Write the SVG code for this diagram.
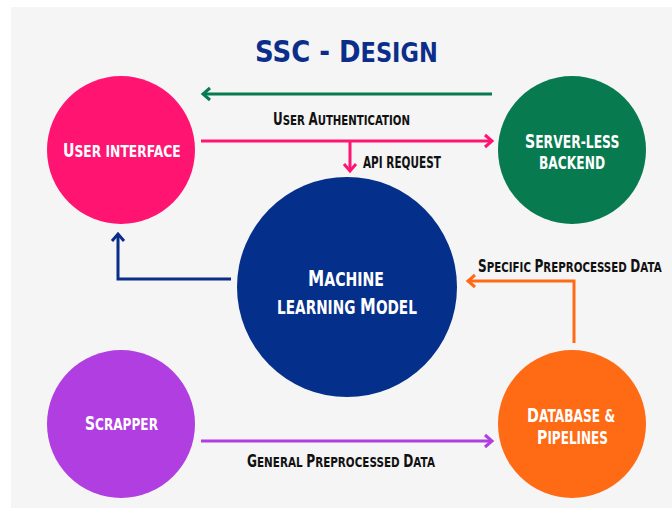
<svg xmlns="http://www.w3.org/2000/svg" width="672" height="508" viewBox="0 0 672 508">
<style>
text{font-family:"DejaVu Sans","Liberation Sans",sans-serif;font-weight:bold;}
.w{fill:#ffffff;}
.k{fill:#111111;}
.t{fill:#0b2e8a;}
.ln{fill:none;stroke-width:3;stroke-linejoin:miter;}
</style>
<defs>
<marker id="mg" markerUnits="userSpaceOnUse" markerWidth="20" markerHeight="20" refX="0" refY="0" viewBox="-10 -10 20 20" orient="auto"><path d="M-7,-6 L0,0 L-7,6" fill="none" stroke="#077a4f" stroke-width="3"/></marker>
<marker id="mp" markerUnits="userSpaceOnUse" markerWidth="20" markerHeight="20" refX="0" refY="0" viewBox="-10 -10 20 20" orient="auto"><path d="M-7,-6 L0,0 L-7,6" fill="none" stroke="#ff1472" stroke-width="3"/></marker>
<marker id="mb" markerUnits="userSpaceOnUse" markerWidth="20" markerHeight="20" refX="0" refY="0" viewBox="-10 -10 20 20" orient="auto"><path d="M-7,-6 L0,0 L-7,6" fill="none" stroke="#0a2d8a" stroke-width="3"/></marker>
<marker id="mo" markerUnits="userSpaceOnUse" markerWidth="20" markerHeight="20" refX="0" refY="0" viewBox="-10 -10 20 20" orient="auto"><path d="M-7,-6 L0,0 L-7,6" fill="none" stroke="#ff6a14" stroke-width="3"/></marker>
<marker id="mv" markerUnits="userSpaceOnUse" markerWidth="20" markerHeight="20" refX="0" refY="0" viewBox="-10 -10 20 20" orient="auto"><path d="M-7,-6 L0,0 L-7,6" fill="none" stroke="#b03ee0" stroke-width="3"/></marker>
</defs>
<rect x="0" y="0" width="672" height="508" fill="#ffffff"/>
<rect x="11" y="7" width="661" height="501" fill="#f5f5f5"/>
<text class="t" transform="translate(255,62) scale(0.865,1)"><tspan font-size="30">SSC - D</tspan><tspan font-size="26">ESIGN</tspan></text>

<g id="connectors">
<path class="ln" d="M492,94 L203,94" stroke="#077a4f" marker-end="url(#mg)"/>
<path class="ln" d="M201,141 L492,141" stroke="#ff1472" marker-end="url(#mp)"/>
<path class="ln" d="M350,141 L350,171" stroke="#ff1472" marker-end="url(#mp)"/>
<path class="ln" d="M231,279 L118,279 L118,234" stroke="#0a2d8a" marker-end="url(#mb)"/>
<path class="ln" d="M574,343 L574,281 L468,281" stroke="#ff6a14" marker-end="url(#mo)"/>
<path class="ln" d="M201,441 L492,441" stroke="#b03ee0" marker-end="url(#mv)"/>
<text class="k" transform="translate(273,125) scale(0.703,1)"><tspan font-size="17">U</tspan><tspan font-size="14.5">SER </tspan><tspan font-size="17">A</tspan><tspan font-size="14.5">UTHENTICATION</tspan></text>
<text class="k" transform="translate(363,168) scale(0.70,1)" font-size="15">API REQUEST</text>
<text class="k" transform="translate(478,272) scale(0.709,1)"><tspan font-size="17">S</tspan><tspan font-size="14.5">PECIFIC </tspan><tspan font-size="17">P</tspan><tspan font-size="14.5">REPROCESSED </tspan><tspan font-size="17">D</tspan><tspan font-size="14.5">ATA</tspan></text>
<text class="k" transform="translate(247,467) scale(0.717,1)"><tspan font-size="17">G</tspan><tspan font-size="14.5">ENERAL </tspan><tspan font-size="17">P</tspan><tspan font-size="14.5">REPROCESSED </tspan><tspan font-size="17">D</tspan><tspan font-size="14.5">ATA</tspan></text>
</g>

<g id="user-interface">
<circle cx="121" cy="150" r="74" fill="#ff1472"/>
<text class="w" transform="translate(63,157) scale(0.746,1)"><tspan font-size="19">U</tspan><tspan font-size="16.5">SER INTERFACE</tspan></text>
</g>
<g id="server-less-backend">
<circle cx="572" cy="150" r="74" fill="#077a4f"/>
<text class="w" transform="translate(525,148) scale(0.707,1)"><tspan font-size="20">S</tspan><tspan font-size="17.5">ERVER-LESS</tspan></text>
<text class="w" transform="translate(539,169) scale(0.70,1)" font-size="17.5">BACKEND</text>
</g>
<g id="machine-learning-model">
<circle cx="347" cy="287" r="110" fill="#04308c"/>
<text class="w" transform="translate(308,286) scale(0.742,1)"><tspan font-size="22">M</tspan><tspan font-size="19">ACHINE</tspan></text>
<text class="w" transform="translate(277,314) scale(0.72,1)"><tspan font-size="19">LEARNING </tspan><tspan font-size="22">M</tspan><tspan font-size="19">ODEL</tspan></text>
</g>
<g id="scrapper">
<circle cx="121" cy="424" r="74" fill="#b03ee0"/>
<text class="w" transform="translate(85,430) scale(0.734,1)"><tspan font-size="19">S</tspan><tspan font-size="16.5">CRAPPER</tspan></text>
</g>
<g id="database-pipelines">
<circle cx="572" cy="424" r="74" fill="#ff6a14"/>
<text class="w" transform="translate(527,422) scale(0.719,1)"><tspan font-size="20">D</tspan><tspan font-size="17">ATABASE &amp;</tspan></text>
<text class="w" transform="translate(537,444) scale(0.708,1)"><tspan font-size="20">P</tspan><tspan font-size="17">IPELINES</tspan></text>
</g>
</svg>
